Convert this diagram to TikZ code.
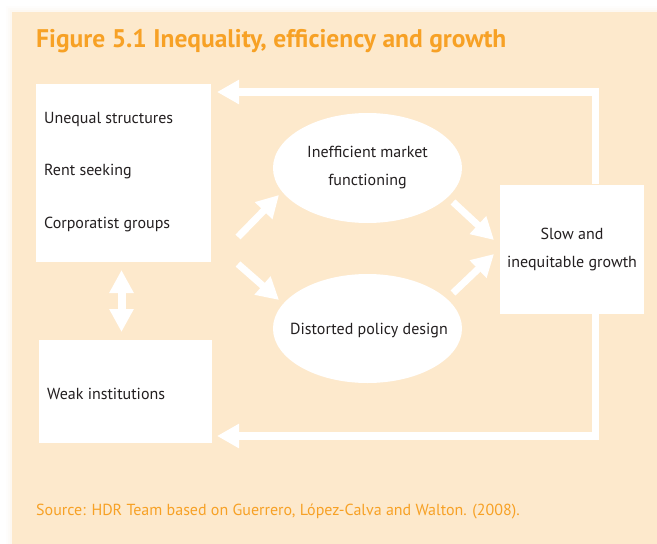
\documentclass[tikz,border=0pt]{standalone}
\usepackage{fontspec}
\setmainfont{PT Sans}
\usetikzlibrary{arrows.meta,shapes.geometric}
\definecolor{bgc}{HTML}{FDE9CC}
\definecolor{titlec}{HTML}{F7A125}
\definecolor{txtc}{HTML}{231F20}
\tikzset{
  box/.style={fill=white,draw=none,inner sep=0pt,text=txtc},
  oval/.style={ellipse,fill=white,draw=none,inner sep=0pt},
  ovaltxt/.style={inner sep=0pt,text=txtc,align=center,font=\fontsize{16}{28}\selectfont},
  fat/.style={white,line width=7pt,-{Triangle[width=23pt,length=22pt]}},
  fatd/.style={white,line width=8pt,{Triangle[width=23pt,length=23pt]}-{Triangle[width=23pt,length=23pt]}},
  lab/.style={text=txtc,font=\fontsize{16}{18}\selectfont,anchor=west,inner sep=0pt},
}
\begin{document}
\begin{tikzpicture}[x=1pt,y=-1pt]
\useasboundingbox (0,0) rectangle (657,544);
\fill[white] (0,0) rectangle (657,544);
% soft shadow
\foreach \d/\o in {6/0.05,4/0.08,2/0.12}{
  \fill[bgc,opacity=\o] (12-\d,12-\d) rectangle (657,544);
}
\fill[bgc] (12,12) rectangle (657,544);
\node[anchor=west,inner sep=0pt,text=titlec,font=\fontsize{25.5}{28}\selectfont\bfseries] (title) at (36,41) {Figure 5.1 Inequality, efficiency and growth};
% boxes
\node[box,minimum width=175pt,minimum height=178pt] (A) at (123.5,173) {};
\node[lab] (a1) at (44,119) {Unequal structures};
\node[lab] (a2) at (44,172) {Rent seeking};
\node[lab] (a3) at (44,224) {Corporatist groups};
\node[box,minimum width=173pt,minimum height=103pt] (W) at (125.5,391.5) {};
\node[lab] (w1) at (47,394) {Weak institutions};
\node[oval,minimum width=189pt,minimum height=110pt] (E1) at (367.5,168) {};
\node[ovaltxt] (e1) at (E1.center) {Inefficient market\\functioning};
\node[oval,minimum width=189pt,minimum height=109pt] (E2) at (367.5,328.5) {};
\node[ovaltxt] (e2) at (369,331) {Distorted policy design};
\node[box,minimum width=144pt,minimum height=129pt,align=center,font=\fontsize{16}{28}\selectfont] (R) at (572,249) {Slow and\\inequitable growth};
% coordinates for arrows
\coordinate (t1) at (238,237); \coordinate (h1) at (279,195);
\coordinate (t2) at (238,264); \coordinate (h2) at (279,300);
\coordinate (t3) at (453,202); \coordinate (h3) at (494,240);
\coordinate (t4) at (453,293); \coordinate (h4) at (494,254);
\draw[fat] (t1) -- (h1);
\draw[fat] (t2) -- (h2);
\draw[fat] (t3) -- (h3);
\draw[fat] (t4) -- (h4);
\coordinate (d1) at (121.5,270); \coordinate (d2) at (121.5,332);
\draw[fatd] (d1) -- (d2);
% feedback loops
\coordinate (Rt) at (595.5,184); \coordinate (At) at (217,92);
\coordinate (Rb) at (595.5,313); \coordinate (Wb) at (217,436);
\draw[fat,line width=7.5pt] (Rt) -- (595.5,92) -- (At);
\draw[fat,line width=7.5pt] (Rb) -- (595.5,436) -- (Wb);
\node[anchor=west,inner sep=0pt,text=titlec,font=\fontsize{16}{18}\selectfont] (src) at (36,511) {Source: HDR Team based on Guerrero, López-Calva and Walton. (2008).};
\end{tikzpicture}
\end{document}
